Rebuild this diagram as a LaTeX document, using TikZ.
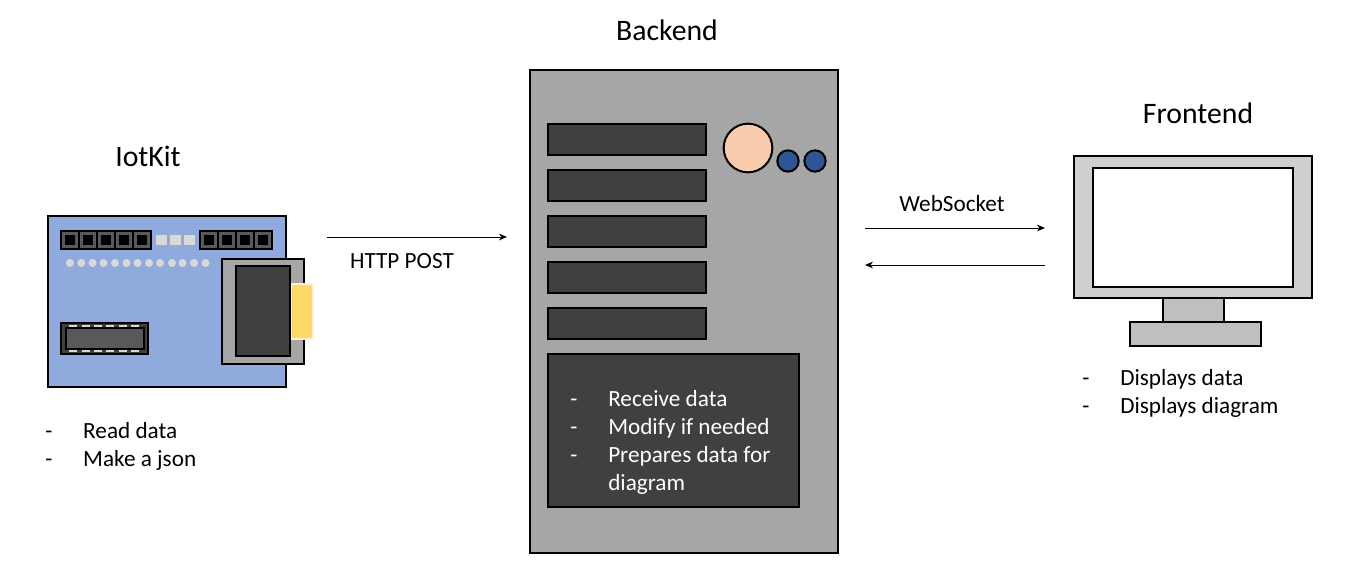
\documentclass[tikz,border=0pt]{standalone}
\usepackage{fontspec}
\setmainfont{Carlito}
\usepackage{tikz}
\usetikzlibrary{arrows.meta, positioning, calc}
\definecolor{boardblue}{HTML}{8FAADC}
\definecolor{casegray}{HTML}{A6A6A6}
\definecolor{darkgray}{HTML}{404040}
\definecolor{pingray}{HTML}{595959}
\definecolor{lightgray}{HTML}{D9D9D9}
\definecolor{plugyellow}{HTML}{FFD966}
\definecolor{plugedge}{HTML}{FFF2CC}
\definecolor{knobpeach}{HTML}{F8CBAD}
\definecolor{knobblue}{HTML}{2F5597}
\definecolor{screengray}{HTML}{D0CECE}
\definecolor{standgray}{HTML}{BFBFBF}
\newcommand{\listitem}[1]{\makebox[28.5pt][l]{-}#1}

\begin{document}
\begin{tikzpicture}[
        x=0.75pt, y=-0.75pt,
        >={Stealth[length=6pt, width=5pt]},
        wh/.style 2 args={minimum width=#1*0.75pt, minimum height=#2*0.75pt},
        box/.style={draw, rectangle, line width=1.5pt, inner sep=0pt, outer sep=0pt},
        flat/.style={rectangle, inner sep=0pt, outer sep=0pt},
        dot/.style={circle, inner sep=0pt, outer sep=0pt},
        knob/.style={draw, circle, line width=1.5pt, inner sep=0pt, outer sep=0pt},
        link/.style={->, line width=0.7pt},
        title/.style={font=\fontsize{22.3}{26}\selectfont},
        label/.style={font=\fontsize{17.4}{21}\selectfont},
        notes/.style={font=\fontsize{17.4}{21}\selectfont, align=left, anchor=west, inner sep=0pt}
    ]
    \useasboundingbox (0,0) rectangle (1345,564);

    % IotKit board
    \node[box, fill=boardblue, wh={238}{171}] (Board) at (167,301.5) {};
    \node[flat, fill=black, wh={92}{20}] (HeaderA) at (106,240) {};
    \node[flat, fill=black, wh={74}{20}] (HeaderB) at (236,240) {};
    \foreach \x in {70,88,106,124,142,209,227,245,263}
        \node[box, draw=pingray, line width=2pt, fill=black, wh={12.5}{12.5}] (Pin\x) at (\x,240) {};
    \foreach \x in {161,175,189}
        \node[flat, fill=lightgray, wh={11}{10}] (Led\x) at (\x,240) {};
    \foreach \x in {70,81.3,92.5,103.5,115,126.5,137.5,149,160,172,182.5,194,205.5}
        \node[dot, fill=lightgray, minimum size=6pt] at (\x,263) {};

    % chip
    \node[box, fill=darkgray, wh={87}{31}] (Chip) at (104.3,338.3) {};
    \node[box, fill=pingray, wh={78}{21}] (ChipCore) at (104.7,338.3) {};
    \foreach \x in {72.7,86,98,110.3,123,135} {
        \node[flat, fill=lightgray, wh={8}{2}] at (\x,326) {};
        \node[flat, fill=lightgray, wh={8}{2}] at (\x,351) {};
    }

    % connector
    \node[box, fill=casegray, wh={82}{105}] (Port) at (263,311.5) {};
    \node[box, draw=plugedge, fill=plugyellow, wh={22}{55}] (Plug) at (301.5,311.5) {};
    \node[box, fill=darkgray, wh={54}{90}] (PortCore) at (263,311) {};

    % Backend
    \node[box, fill=casegray, wh={308}{483}] (Server) at (684,311.5) {};
    \foreach \y in {139.5,185.5,231.5,277.5,323.5}
        \node[box, fill=darkgray, wh={158.5}{31}] (Bar\y) at (627.2,\y) {};
    \node[box, fill=darkgray, wh={251}{153}] (Panel) at (673.5,430.5) {};
    \node[knob, fill=knobpeach, minimum size=36.5pt] (Knob) at (748,148) {};
    \node[knob, fill=knobblue, minimum size=16pt] (LedA) at (788,161) {};
    \node[knob, fill=knobblue, minimum size=16pt] (LedB) at (815,161) {};

    % Frontend
    \node[box, fill=standgray, wh={61}{24}] (Neck) at (1193.5,310) {};
    \node[box, fill=standgray, wh={131}{24}] (Foot) at (1195.5,334) {};
    \node[box, fill=screengray, wh={238}{142}] (Monitor) at (1193,227) {};
    \node[box, fill=white, wh={200}{119}] (Screen) at (1193,227.5) {};

    % Titles
    \node[title] (KitTitle) at (148,156) {IotKit};
    \node[title] (ServerTitle) at (667,30) {Backend};
    \node[title] (ClientTitle) at (1198,113) {Frontend};

    % Lists
    \node[notes] (KitNotes) at (45,446) {\listitem{Read data}\\\listitem{Make a json}};
    \node[notes, text=white] (ServerNotes) at (570,442) {\listitem{Receive data}\\\listitem{Modify if needed}\\\listitem{Prepares data for}\\\hspace*{28.5pt}diagram};
    \node[notes] (ClientNotes) at (1082,393) {\listitem{Displays data}\\\listitem{Displays diagram}};

    % Edges
    \coordinate (PostA) at (327,237);
    \coordinate (PostB) at (507,237);
    \coordinate (SockA) at (865,228);
    \coordinate (SockB) at (1045,228);
    \coordinate (SockC) at (1045,265);
    \coordinate (SockD) at (865,265);
    \draw[link] (PostA) -- (PostB);
    \draw[link] (SockA) -- (SockB);
    \draw[link] (SockC) -- (SockD);
    \node[label] (PostLabel) at (402,261) {HTTP POST};
    \node[label] (SockLabel) at (952,204) {WebSocket};
\end{tikzpicture}
\end{document}
